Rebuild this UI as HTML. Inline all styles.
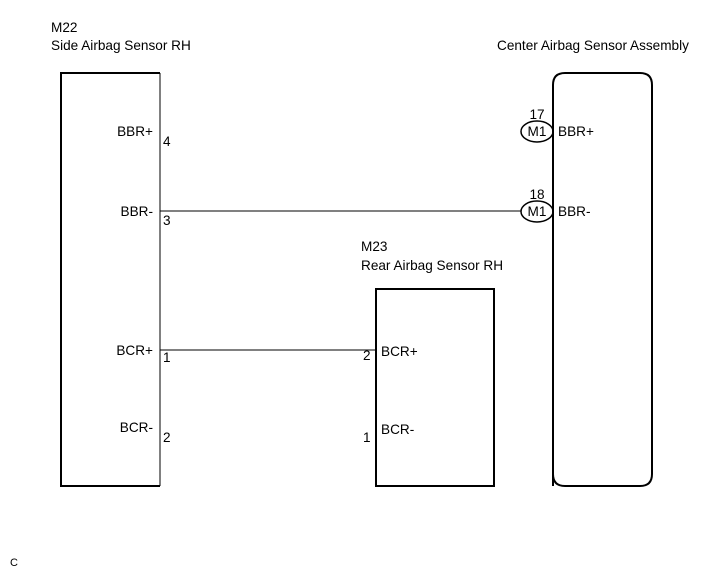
<!DOCTYPE html>
<html><head><style>body{margin:0;background:#fff}svg{display:block}text{font-family:"Liberation Sans",Arial,sans-serif;font-size:13.6px;fill:#000}</style></head><body>
<svg width="718" height="574" viewBox="0 0 718 574">
<g fill="none" stroke="#000">
<path d="M160,73 H61 V486 H160" stroke-width="2"/>
<line x1="160" y1="73" x2="160" y2="486" stroke-width="1"/>
<path d="M553,486 V85 Q553,73 565,73 H640 Q652,73 652,85 V474 Q652,486 640,486 H565 Q553,486 553,474 Z" stroke-width="2"/>
<rect x="376" y="289" width="118" height="197" stroke-width="2"/>
<line x1="160" y1="211" x2="521" y2="211"/>
<line x1="160" y1="350" x2="376" y2="350"/>
<ellipse cx="537" cy="131.5" rx="16" ry="10.5" stroke-width="1.5"/>
<ellipse cx="537" cy="211.5" rx="16" ry="10.5" stroke-width="1.5"/>
</g>
<text x="51" y="32">M22</text>
<text x="51" y="50">Side Airbag Sensor RH</text>
<text x="497" y="50">Center Airbag Sensor Assembly</text>
<text x="361" y="251">M23</text>
<text x="361" y="270">Rear Airbag Sensor RH</text>
<text x="153" y="136" text-anchor="end">BBR+</text>
<text x="153" y="216" text-anchor="end">BBR-</text>
<text x="153" y="355" text-anchor="end">BCR+</text>
<text x="153" y="432" text-anchor="end">BCR-</text>
<text x="163" y="146">4</text>
<text x="163" y="225">3</text>
<text x="163" y="362">1</text>
<text x="163" y="442">2</text>
<text x="363" y="360">2</text>
<text x="363" y="442">1</text>
<text x="381" y="356">BCR+</text>
<text x="381" y="434">BCR-</text>
<text x="537" y="119" text-anchor="middle">17</text>
<text x="537" y="199" text-anchor="middle">18</text>
<text x="537" y="136" text-anchor="middle">M1</text>
<text x="537" y="216" text-anchor="middle">M1</text>
<text x="558" y="136">BBR+</text>
<text x="558" y="216">BBR-</text>
<text x="10" y="566" style="font-size:11px">C</text>
</svg>
</body></html>
